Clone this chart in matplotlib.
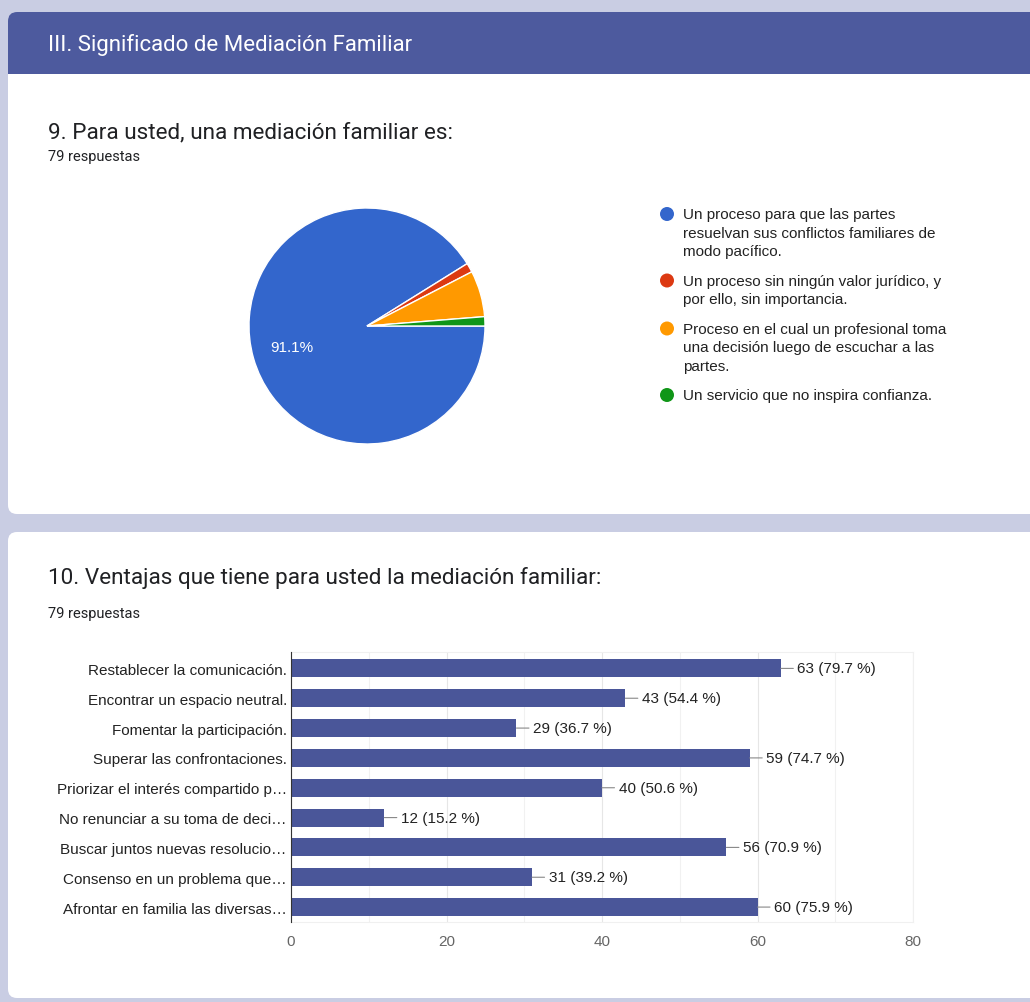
import numpy as np
import matplotlib.pyplot as plt
from matplotlib.patches import FancyBboxPatch, Rectangle, Circle

plt.rcParams["font.family"] = ["Liberation Sans", "DejaVu Sans"]

# ---- data ----
pie_labels = [
    "Un proceso para que las partes\nresuelvan sus conflictos familiares de\nmodo pacífico.",
    "Un proceso sin ningún valor jurídico, y\npor ello, sin importancia.",
    "Proceso en el cual un profesional toma\nuna decisión luego de escuchar a las\npartes.",
    "Un servicio que no inspira confianza.",
]
pie_counts = [72, 1, 5, 1]
pie_colors = ["#3366cc", "#dc3912", "#ff9900", "#109618"]

bar_labels = [
    "Restablecer la comunicación.",
    "Encontrar un espacio neutral.",
    "Fomentar la participación.",
    "Superar las confrontaciones.",
    "Priorizar el interés compartido p…",
    "No renunciar a su toma de deci…",
    "Buscar juntos nuevas resolucio…",
    "Consenso en un problema que…",
    "Afrontar en familia las diversas…",
]
bar_counts = [63, 43, 29, 59, 40, 12, 56, 31, 60]
bar_pcts = [79.7, 54.4, 36.7, 74.7, 50.6, 15.2, 70.9, 39.2, 75.9]
n_resp = 79

W, H = 1030, 1003
HEAD = "#4d5a9e"
BAR = "#4a5699"
BG = "#c9cde3"
TITLE_FONT = ["Roboto", "DejaVu Sans"]

fig = plt.figure(figsize=(W / 100, H / 100), dpi=100)
fig.patch.set_facecolor(BG)

# background axes in pixel coords (y down)
bg = fig.add_axes([0, 0, 1, 1])
bg.set_xlim(0, W)
bg.set_ylim(H, 0)
bg.axis("off")

# cards
bg.add_patch(FancyBboxPatch((8, 13), 1040, 502, boxstyle="round,pad=0,rounding_size=9",
                            fc="white", ec="none"))
bg.add_patch(FancyBboxPatch((8, 13), 1040, 62, boxstyle="round,pad=0,rounding_size=9",
                            fc=HEAD, ec="none"))
bg.add_patch(Rectangle((8, 50), 1040, 25, fc=HEAD, ec="none"))
bg.add_patch(FancyBboxPatch((8, 533), 1040, 466, boxstyle="round,pad=0,rounding_size=9",
                            fc="white", ec="none"))

bg.text(48, 45, "III. Significado de Mediación Familiar", color="white",
        fontsize=16, family=TITLE_FONT, va="center")
bg.text(48, 133, "9. Para usted, una mediación familiar es:", color="#202124",
        fontsize=16.2, family=TITLE_FONT, va="center")
bg.text(48, 157, f"{n_resp} respuestas", color="#202124", fontsize=10.5,
        family=TITLE_FONT, va="center")
bg.text(48, 578, "10. Ventajas que tiene para usted la mediación familiar:", color="#202124",
        fontsize=16.2, family=TITLE_FONT, va="center")
bg.text(48, 614, f"{n_resp} respuestas", color="#202124", fontsize=10.5,
        family=TITLE_FONT, va="center")

# ---- pie ----
axp = fig.add_axes([249 / W, 1 - 445 / H, 236 / W, 236 / H])
wedges, _, autotexts = axp.pie(
    pie_counts, colors=pie_colors, startangle=0, counterclock=False,
    autopct=lambda p: f"{p:.1f}%" if p > 10 else "", pctdistance=0.66,
    wedgeprops=dict(edgecolor="white", linewidth=1),
    textprops=dict(color="white", fontsize=11))
axp.set_xlim(-1, 1)
axp.set_ylim(-1, 1)
axp.set_aspect("equal")

# legend drawn by hand
y = 215
for lab, col in zip(pie_labels, pie_colors):
    bg.add_patch(Circle((667, y), 7, fc=col, ec="none"))
    lines = lab.split("\n")
    for k, ln in enumerate(lines):
        bg.text(683, y + k * 18.5, ln, fontsize=11, color="#222222", va="center")
    y += len(lines) * 18.5 + 11

# ---- bars ----
axb = fig.add_axes([291 / W, 1 - 923 / H, (913 - 291) / W, (923 - 653) / H])
ypos = np.arange(len(bar_labels))
axb.barh(ypos, bar_counts, height=0.6, color=BAR, zorder=3)
axb.set_xlim(0, 80)
axb.set_ylim(8.5, -0.55)
axb.set_yticks(ypos)
axb.set_yticklabels(bar_labels, fontsize=11, color="#222222")
axb.set_xticks([0, 20, 40, 60, 80])
axb.set_xticklabels(["0", "20", "40", "60", "80"], fontsize=11, color="#666666")
axb.set_xticks(np.arange(10, 80, 20), minor=True)
axb.tick_params(length=0, which="both")
axb.tick_params(axis="y", pad=3)
axb.tick_params(axis="x", pad=9)
axb.grid(axis="x", which="major", color="#e6e6e6", lw=0.8, zorder=0)
axb.grid(axis="x", which="minor", color="#f1f1f1", lw=0.8, zorder=0)
for s in ["top", "right", "bottom"]:
    axb.spines[s].set_color("#f0f0f0")
axb.spines["left"].set_color("#333333")
axb.spines["left"].set_zorder(4)

for i, (v, p) in enumerate(zip(bar_counts, bar_pcts)):
    axb.annotate(f"{v} ({p} %)", xy=(v, i), xytext=(12, 0), textcoords="offset points",
                 va="center", ha="left", fontsize=11, color="#222222",
                 arrowprops=dict(arrowstyle="-", color="#888888", lw=0.8,
                                 shrinkA=1, shrinkB=0, relpos=(0, 0.5)))

fig.savefig("out.png", dpi=100, facecolor=BG)
